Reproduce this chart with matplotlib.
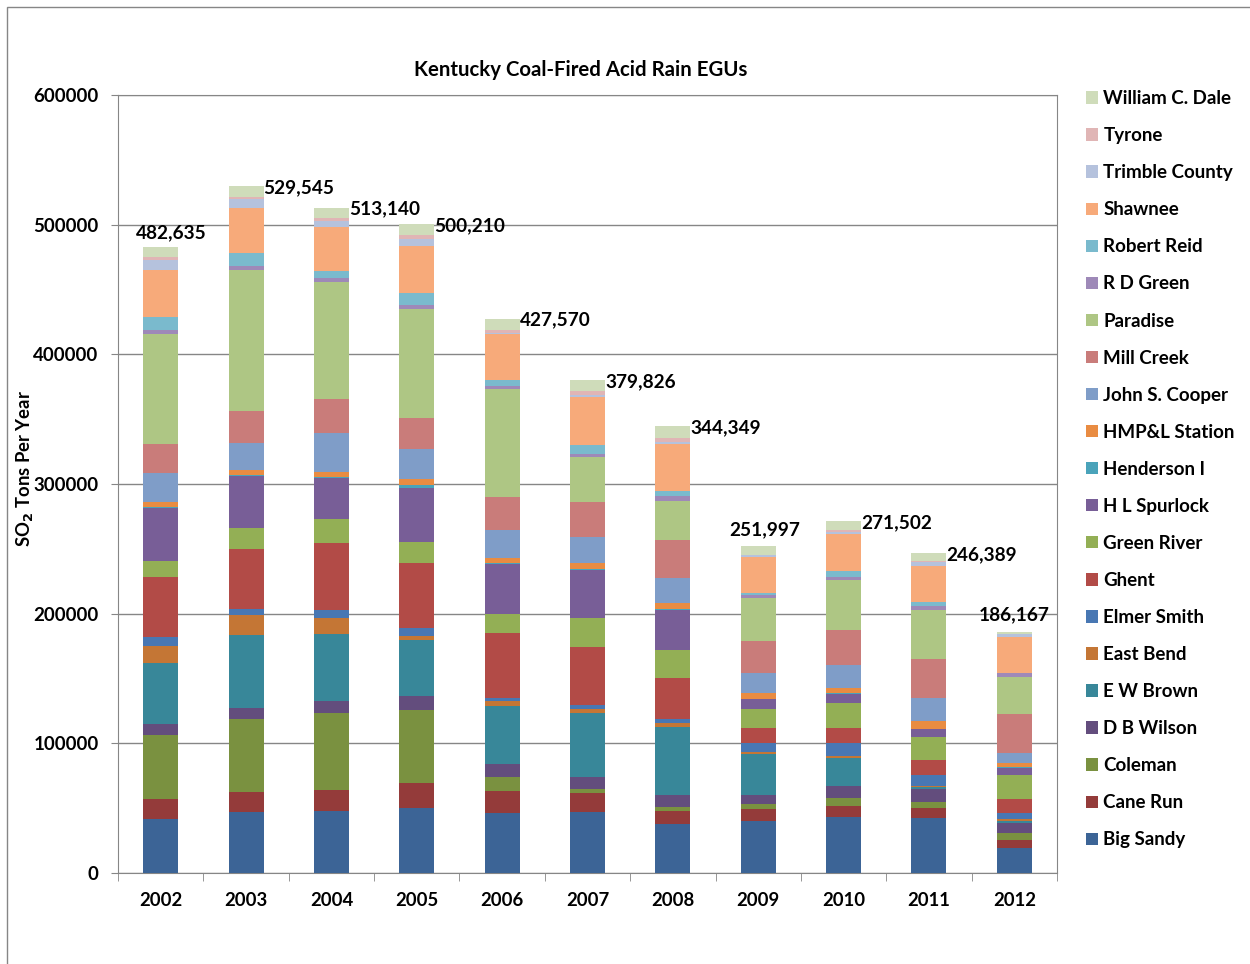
import numpy as np
import matplotlib
matplotlib.use("Agg")
import matplotlib.pyplot as plt
from matplotlib.patches import Rectangle

plt.rcParams['font.family'] = ['Lato', 'DejaVu Sans']

years = ['2002', '2003', '2004', '2005', '2006', '2007', '2008', '2009', '2010', '2011', '2012']

# plants, bottom of the stack first (tons SO2 per year)
big_sandy     = [41600, 47000, 47800, 50100, 46300, 47000, 37800, 40100, 42900, 42700, 19500]
cane_run      = [15500, 15700, 16000, 19100, 17200, 14500,  9800,  9000,  9000,  7200,  6200]
coleman       = [49400, 55800, 59400, 56800, 10800,  3000,  3100,  3900,  6200,  5100,  5400]
db_wilson     = [ 8500,  9000,  9700, 10700,  9800,  9500,  9200,  6900,  9200,  9500,  7700]
ew_brown      = [47000, 56000, 51700, 43200, 44900, 49200, 52400, 31900, 21400,  1600,  1500]
east_bend     = [12800, 15500, 12300,  3100,  3700,  3300,  3100,  1500,  1500,  1200,  1300]
elmer_smith   = [ 7000,  4600,  6200,  6200,  2500,  3100,  3600,  6700,  9800,  8300,  4700]
ghent         = [46200, 46300, 51600, 49900, 49900, 44900, 31100, 11600, 11600, 11500, 10500]
green_river   = [12900, 15900, 18100, 16200, 14600, 22200, 22100, 14600, 19500, 17500, 19000]
hl_spurlock   = [40600, 40400, 32100, 41900, 38800, 37200, 30600,  8000,  7200,  6200,  5400]
henderson     = [ 1000,   800,   800,  2000,   500,   500,   500,   300,   300,   300,   200]
hmpl          = [ 3500,  3800,  3800,  4700,  4200,  4700,  4700,  4600,  4300,  5900,  3400]
john_cooper   = [22100, 20600, 30100, 23300, 21100, 20000, 19200, 15200, 17300, 18000,  7700]
mill_creek    = [22900, 25100, 26000, 23900, 25900, 27200, 29300, 24400, 27400, 30300, 30400]
paradise      = [84300, 108500, 90400, 84100, 83300, 34800, 30300, 33400, 38400, 37500, 28300]
rd_green      = [ 3100,  3100,  3100,  2600,  2300,  2300,  3700,  2100,  2300,  3100,  2800]
robert_reid   = [10500, 10100,  5400,  9500,  4200,  6900,  4100,  1500,  4600,  3100,   300]
shawnee       = [35800, 34900, 34000, 36000, 35700, 36600, 36000, 27800, 28300, 28000, 27500]
trimble       = [ 8400,  6400,  4600,  5400,  1000,  1700,  1800,  1500,  2000,  3100,  2500]
tyrone        = [ 2300,  2100,  2300,  3100,  2100,  3100,  3000,   300,  1300,   300,   300]
totals        = [482635, 529545, 513140, 500210, 427570, 379826, 344349, 251997, 271502, 246389, 186167]

names = ['Big Sandy', 'Cane Run', 'Coleman', 'D B Wilson', 'E W Brown', 'East Bend',
         'Elmer Smith', 'Ghent', 'Green River', 'H L Spurlock', 'Henderson I',
         'HMP&L Station', 'John S. Cooper', 'Mill Creek', 'Paradise', 'R D Green',
         'Robert Reid', 'Shawnee', 'Trimble County', 'Tyrone', 'William C. Dale']
series = [big_sandy, cane_run, coleman, db_wilson, ew_brown, east_bend, elmer_smith,
          ghent, green_river, hl_spurlock, henderson, hmpl, john_cooper, mill_creek,
          paradise, rd_green, robert_reid, shawnee, trimble, tyrone]
# William C. Dale is whatever is left up to the total
wcd = [t - sum(s[i] for s in series) for i, t in enumerate(totals)]
series.append(wcd)

colors = ['#3C6496', '#943B3A', '#7A9140', '#634D7D', '#388799', '#C47635',
          '#4877B3', '#B24B47', '#93AF55', '#785E97', '#4AA3BA', '#E98C42',
          '#7F9DC8', '#C97C7A', '#AEC684', '#9E89B8', '#7ABACD', '#F7AA7A',
          '#B5C2DD', '#E0B5B5', '#CFDCBA']

fig = plt.figure(figsize=(12.5, 9.64), dpi=100)
ax = fig.add_axes([0.0944, 0.0944, 0.7512, 0.8071])

x = np.arange(len(years))
bottom = np.zeros(len(years))
handles = []
for name, vals, c in zip(names, series, colors):
    b = ax.bar(x, vals, 0.41, bottom=bottom, color=c, label=name, zorder=3)
    handles.append(b)
    bottom += np.array(vals)

ax.set_xlim(-0.5, 10.5)
ax.set_ylim(0, 600000)
ax.set_yticks(np.arange(0, 600001, 100000))
ax.set_yticklabels([str(v) for v in range(0, 600001, 100000)], fontsize=13.5, fontweight='bold')
ax.set_xticks(x)
ax.set_xticklabels(years, fontsize=13.3, fontweight='bold')
ax.set_xticks(np.arange(-0.5, 11, 1), minor=True)
ax.tick_params(axis='x', which='major', length=0, pad=14)
ax.tick_params(axis='x', which='minor', length=6, color='#868686')
ax.tick_params(axis='y', length=5, color='#868686', pad=9)
ax.grid(axis='y', color='#868686', linewidth=1, zorder=0)
for s in ax.spines.values():
    s.set_color('#868686')

ax.set_ylabel(r'SO$_\mathbf{2}$ Tons Per Year', fontsize=13.3, fontweight='bold')
ax.yaxis.set_label_coords(-0.0885, 0.52)
ax.set_title('Kentucky Coal-Fired Acid Rain EGUs', fontsize=14.7, fontweight='bold', pad=14, x=0.493)

# total labels: some above the bar, others to the right of its top
above = {0: (8, 4), 7: (5, 6), 10: (0, 6)}
for i, t in enumerate(totals):
    lab = f'{t:,}'
    if i in above:
        dx, dy = above[i]
        ax.annotate(lab, (x[i], t), xytext=(dx, dy), textcoords='offset points',
                    ha='center', va='bottom', fontsize=13.7, fontweight='bold', zorder=5)
    else:
        ax.annotate(lab, (x[i] + 0.205, t), xytext=(0, -1), textcoords='offset points',
                    ha='left', va='center', fontsize=13.7, fontweight='bold', zorder=5)

fig.legend(handles[::-1], names[::-1], loc='upper left', bbox_to_anchor=(0.855, 0.924),
           frameon=False, prop={'weight': 'bold', 'size': 13.5},
           handlelength=0.64, handleheight=0.64, handletextpad=0.3, labelspacing=1.07)

fig.patches.append(Rectangle((7 / 1250, -0.1), 1.2, 1.1 - 7 / 964, transform=fig.transFigure,
                             fill=False, edgecolor='#868686', linewidth=1))

fig.savefig('out.png', dpi=100)
